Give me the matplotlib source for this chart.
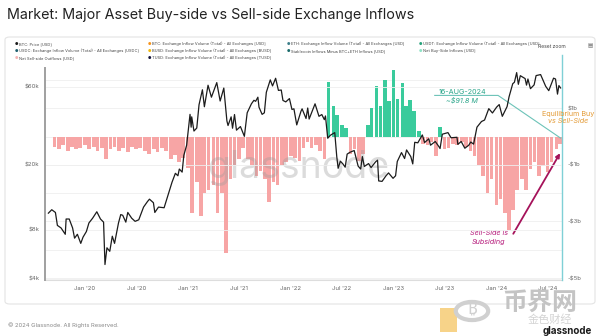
import matplotlib

matplotlib.use("Agg")
import matplotlib.pyplot as plt
import matplotlib.dates as mdates
from matplotlib.patches import FancyBboxPatch, Circle
import pandas as pd

plt.rcParams["font.family"] = ["Inter", "DejaVu Sans"]

# --- data -------------------------------------------------------------------
price_dates = [
    "2019-08-24", "2019-09-05", "2019-09-18", "2019-09-25", "2019-10-08", "2019-10-23",
    "2019-10-26", "2019-11-06", "2019-11-18", "2019-11-25", "2019-12-05", "2019-12-17",
    "2019-12-25", "2020-01-06", "2020-01-15", "2020-01-28", "2020-02-12", "2020-02-25",
    "2020-03-07", "2020-03-12", "2020-03-19", "2020-03-29", "2020-04-07", "2020-04-15",
    "2020-04-29", "2020-05-07", "2020-05-14", "2020-05-25", "2020-06-01", "2020-06-15",
    "2020-06-27", "2020-07-10", "2020-07-27", "2020-08-10", "2020-08-17", "2020-08-31",
    "2020-09-05", "2020-09-18", "2020-10-08", "2020-10-21", "2020-11-05", "2020-11-17",
    "2020-11-26", "2020-12-01", "2020-12-11", "2020-12-17", "2020-12-27", "2021-01-08",
    "2021-01-12", "2021-01-14", "2021-01-22", "2021-02-01", "2021-02-09", "2021-02-21",
    "2021-02-28", "2021-03-13", "2021-03-25", "2021-04-13", "2021-04-25", "2021-05-08",
    "2021-05-12", "2021-05-19", "2021-05-23", "2021-06-03", "2021-06-08", "2021-06-15",
    "2021-06-22", "2021-07-06", "2021-07-20", "2021-07-30", "2021-08-14", "2021-08-23",
    "2021-08-29", "2021-09-06", "2021-09-10", "2021-09-21", "2021-09-29", "2021-10-06",
    "2021-10-20", "2021-10-28", "2021-11-08", "2021-11-18", "2021-11-28", "2021-12-04",
    "2021-12-14", "2021-12-27", "2022-01-05", "2022-01-12", "2022-01-22", "2022-02-06",
    "2022-02-10", "2022-02-24", "2022-03-02", "2022-03-07", "2022-03-28", "2022-04-11",
    "2022-04-21", "2022-04-30", "2022-05-04", "2022-05-12", "2022-05-22", "2022-06-06",
    "2022-06-13", "2022-06-18", "2022-06-26", "2022-07-05", "2022-07-13", "2022-07-20",
    "2022-07-30", "2022-08-14", "2022-08-28", "2022-09-06", "2022-09-12", "2022-09-19",
    "2022-10-04", "2022-10-13", "2022-10-29", "2022-11-05", "2022-11-09", "2022-11-21",
    "2022-12-05", "2022-12-14", "2022-12-30", "2023-01-08", "2023-01-14", "2023-01-29",
    "2023-02-09", "2023-02-16", "2023-03-03", "2023-03-10", "2023-03-17", "2023-03-28",
    "2023-04-13", "2023-04-21", "2023-05-06", "2023-05-12", "2023-05-29", "2023-06-10",
    "2023-06-15", "2023-06-23", "2023-07-13", "2023-07-24", "2023-08-14", "2023-08-17",
    "2023-08-29", "2023-09-11", "2023-09-25", "2023-10-02", "2023-10-12", "2023-10-24",
    "2023-11-09", "2023-11-20", "2023-12-05", "2023-12-18", "2024-01-02", "2024-01-11",
    "2024-01-22", "2024-02-08", "2024-02-15", "2024-02-28", "2024-03-05", "2024-03-13",
    "2024-03-19", "2024-03-26", "2024-04-12", "2024-04-17", "2024-04-22", "2024-05-01",
    "2024-05-14", "2024-05-21", "2024-06-06", "2024-06-24", "2024-07-05", "2024-07-22",
    "2024-07-29", "2024-08-05", "2024-08-10", "2024-08-16",
]
price_k = [
    10.1, 10.6, 10.2, 8.5, 8.2, 7.5,
    9.3, 9.3, 8.2, 7.1, 7.5, 6.6,
    7.2, 7.8, 8.8, 9.4, 10.3, 9.3,
    8.9, 4.9, 6.2, 5.9, 7.3, 6.6,
    8.8, 9.9, 9.8, 8.9, 10.2, 9.4,
    9.0, 9.2, 11.0, 11.9, 12.3, 11.7,
    10.2, 11.0, 10.9, 12.9, 15.6, 17.7,
    17.1, 18.8, 18.0, 22.8, 26.3, 40.6,
    33.9, 39.2, 32.1, 33.5, 46.5, 57.4,
    45.2, 61.2, 51.7, 63.5, 49.0, 58.8,
    49.6, 37.0, 34.7, 39.2, 33.4, 40.5,
    32.5, 34.2, 29.8, 41.5, 47.1, 49.5,
    48.8, 51.7, 44.9, 40.6, 41.5, 55.4,
    66.0, 60.6, 67.5, 56.9, 57.2, 49.4,
    48.4, 50.7, 43.5, 43.9, 35.0, 42.4,
    43.9, 38.3, 44.4, 38.0, 47.1, 39.5,
    40.5, 37.7, 39.7, 29.0, 30.3, 31.4,
    22.5, 19.0, 21.0, 20.2, 19.3, 23.2,
    23.8, 24.4, 19.6, 18.8, 22.4, 19.5,
    20.3, 19.2, 20.8, 21.3, 15.9, 15.8,
    17.1, 17.8, 16.5, 17.1, 20.9, 23.7,
    21.8, 24.6, 22.4, 20.2, 27.4, 27.2,
    30.4, 27.3, 28.8, 26.3, 27.7, 25.9,
    25.1, 30.7, 31.4, 29.2, 29.4, 26.6,
    27.7, 25.2, 26.3, 27.5, 26.7, 33.9,
    36.7, 37.5, 44.0, 41.4, 45.0, 46.6,
    39.5, 45.3, 52.0, 62.5, 63.8, 73.1,
    62.0, 70.0, 67.2, 61.3, 66.8, 58.3,
    61.5, 70.1, 71.1, 60.3, 56.7, 67.6,
    66.8, 54.0, 60.9, 58.9,
]

# net exchange flow (buy-side inflows minus sell-side), $ billions, half-monthly
flow_start = "2019-09-15"
net_flow_b = [
    -0.35, -0.45, -0.30, -0.50, -0.35, -0.45, -0.40, -0.30, -0.45, -0.35,
    -0.50, -0.40, -0.80, -0.45, -0.35, -0.50, -0.40, -0.55, -0.35, -0.45,
    -0.40, -0.50, -0.60, -0.45, -0.55, -0.40, -0.50, -0.80, -0.65, -0.90,
    -0.75, -1.10, -2.70, -1.60, -2.80, -2.00, -1.90, -1.70, -2.70, -2.00,
    -4.10, -1.50, -1.00, -0.80, -0.40, -0.80, -1.00, -1.40, -1.20, -1.50,
    -2.30, -1.60, -1.70, -1.00, -0.90, -0.70, -0.75, -0.85, -0.40, -0.20,
    -0.40, -0.30, -0.50, -0.80, 1.95, 1.10, 0.75, 0.40, 0.30, -0.60,
    -0.45, -0.85, -0.60, 0.40, 1.00, 1.80, 1.10, 2.00, 1.25, 2.35,
    1.35, 1.90, 1.10, 1.30, 0.90, 0.20, -0.25, -0.30, -0.20, -0.70,
    0.35, -0.45, -0.40, -0.25, -0.30, -0.20, -0.35, -0.50, -0.70, -1.00,
    -1.40, -2.00, -1.50, -2.40, -2.20, -2.70, -3.30, -2.60, -1.90, -1.50,
    -1.90, -1.15, -0.90, -1.40, -1.05, -1.25, -0.90, -0.45, -0.25,
]

price_ticks = [4, 8, 20, 60]
flow_ticks = [1, -1, -3, -5]
month_ticks = ["2020-01-01", "2020-07-01", "2021-01-01", "2021-07-01", "2022-01-01",
               "2022-07-01", "2023-01-01", "2023-07-01", "2024-01-01", "2024-07-01"]

legend_items = [
    ("BTC: Price [USD]", "#1a1a1a"),
    ("BTC: Exchange Inflow Volume (Total) - All Exchanges [USD]", "#f7931a"),
    ("ETH: Exchange Inflow Volume (Total) - All Exchanges [USD]", "#3d7f8a"),
    ("USDT: Exchange Inflow Volume (Total) - All Exchanges [USD]", "#26a17b"),
    ("USDC: Exchange Inflow Volume (Total) - All Exchanges [USDC]", "#1f5f6e"),
    ("BUSD: Exchange Inflow Volume (Total) - All Exchanges [BUSD]", "#f0b90b"),
    ("Stablecoin Inflows Minus BTC+ETH Inflows [USD]", "#1a6b6b"),
    ("Net Buy-Side Inflows [USD]", "#8fe3c6"),
    ("Net Sell-side Outflows [USD]", "#f5b3b3"),
    ("TUSD: Exchange Inflow Volume (Total) - All Exchanges [TUSD]", "#14143c"),
]

PINK = "#f7a5a5"
GREEN = "#3acb9c"
W, H = 600, 336
SYMBOL_FONTS = ["Noto Sans", "Roboto", "Open Sans", "Lato", "DejaVu Sans"]


def fx(x):
    return x / W


def fy(y):
    return 1 - y / H


fig = plt.figure(figsize=(6, 3.36), dpi=100)
fig.patch.set_facecolor("white")

card = FancyBboxPatch((fx(5), fy(304)), fx(590), (304 - 37) / H,
                      boxstyle="round,pad=0,rounding_size=0.008",
                      transform=fig.transFigure, facecolor="white",
                      edgecolor="#e4e4e4", linewidth=0.8, zorder=-5)
fig.patches.append(card)

fig.text(fx(7), fy(15), "Market: Major Asset Buy-side vs Sell-side Exchange Inflows",
         fontsize=10.3, color="#222222", va="center")

# legend block
cols = [15, 148, 287, 419]
rows = [44, 51, 58]
order = [(0, 0), (0, 1), (0, 2), (0, 3), (1, 0), (1, 1), (1, 2), (1, 3), (2, 0), (2, 1)]
for (label, color), (r, c) in zip(legend_items, order):
    fig.text(fx(cols[c]), fy(rows[r]), "●", fontsize=2.8, color=color, va="center",
             family=["DejaVu Sans"])
    fig.text(fx(cols[c] + 4), fy(rows[r]), label, fontsize=2.9, color="#444444", va="center")
fig.text(fx(538), fy(46), "Reset zoom", fontsize=3.6, color="#444444", va="center")
fig.text(fx(588), fy(46), "▤", fontsize=4, color="#666666", va="center", family=["DejaVu Sans"])

ax2 = fig.add_axes([fx(45), fy(280), fx(562 - 45), (280 - 68) / H])
ax = ax2.twinx()
ax.yaxis.tick_left()
ax2.yaxis.tick_right()
ax.set_zorder(ax2.get_zorder() + 1)
ax.patch.set_visible(False)

flow_dates = pd.date_range(flow_start, periods=len(net_flow_b), freq="SMS")
colors = [GREEN if v > 0 else PINK for v in net_flow_b]
ax2.bar(flow_dates, net_flow_b, width=13, color=colors, linewidth=0, zorder=2)

ax.plot(pd.to_datetime(price_dates), [p * 1000 for p in price_k],
        color="#1c1c1c", linewidth=0.9, zorder=5)

x0, x1 = pd.Timestamp("2019-08-12"), pd.Timestamp("2024-08-21")
ax2.set_xlim(x0, x1)
ax2.set_ylim(-5.07, 2.43)
ax.set_yscale("log")
ax.set_ylim(3940, 78000)

ax.set_yticks([t * 1000 for t in price_ticks])
ax.set_yticklabels([f"${t}k" for t in price_ticks])
ax.yaxis.set_minor_locator(matplotlib.ticker.NullLocator())
ax2.set_yticks(flow_ticks)
ax2.set_yticklabels([f"${t}b" if t > 0 else f"-${-t}b" for t in flow_ticks])
ax2.set_xticks(pd.to_datetime(month_ticks))
ax2.xaxis.set_major_formatter(mdates.DateFormatter("%b '%y"))

for a in (ax, ax2):
    a.tick_params(length=0, labelsize=4.3, labelcolor="#666666", pad=4)
    for s in a.spines.values():
        s.set_visible(False)
ax2.spines["bottom"].set_visible(True)
ax2.spines["bottom"].set_color("#dddddd")
ax.spines["left"].set_visible(True)
ax.spines["left"].set_color("#a0a0a0")
ax.spines["left"].set_linewidth(1.4)

for v in range(-5, 3):
    ax2.axhline(v, color="#efefef", linewidth=0.6, zorder=0)
for t in price_ticks:
    ax.axhline(t * 1000, color="#efefef", linewidth=0.6, zorder=0)

# cursor line at the last data day
ax2.axvline(pd.Timestamp("2024-08-20"), ymin=0, ymax=1.06, color="#7fd0d6",
            linewidth=1.0, clip_on=False, zorder=6)

# watermark
ax2.text(0.49, 0.53, "glassnode", transform=ax2.transAxes, fontsize=27,
         color="#9a9a9a", alpha=0.35, ha="center", va="center", zorder=3)

# annotations
teal = "#2aa58a"
ax2.plot(pd.to_datetime(["2023-05-27", "2024-01-07", "2024-08-16"]), [1.46, 1.46, -0.05],
         color="#6cc3b8", linewidth=0.8, zorder=6)
ax2.text(pd.Timestamp("2023-09-01"), 1.57, "16-AUG-2024", fontsize=5.2, color=teal,
         ha="center", va="center", zorder=7)
ax2.text(pd.Timestamp("2023-09-01"), 1.29, "~$91.8 M", fontsize=5.2, color=teal,
         ha="center", va="center", style="italic", zorder=7)
ax2.text(pd.Timestamp("2024-09-12"), 0.82, "Equilibrium Buy", fontsize=5.2,
         color="#e39a35", ha="center", va="center", clip_on=False, zorder=7)
ax2.text(pd.Timestamp("2024-09-12"), 0.54, "vs Sell-Side", fontsize=5.2,
         color="#e39a35", ha="center", va="center", style="italic", clip_on=False, zorder=7)
ax2.text(pd.Timestamp("2023-12-05"), -3.39, "Sell-Side is", fontsize=5.2,
         color="#b5197a", ha="center", va="center", style="italic", zorder=7)
ax2.text(pd.Timestamp("2023-12-05"), -3.72, "Subsiding", fontsize=5.2,
         color="#b5197a", ha="center", va="center", style="italic", zorder=7)
ax2.annotate("", xy=(pd.Timestamp("2024-08-19"), -0.5),
             xytext=(pd.Timestamp("2024-02-25"), -3.52),
             arrowprops=dict(arrowstyle="-|>", color="#a5125a", lw=1.3,
                             mutation_scale=6), zorder=8, annotation_clip=False)

# footer and overlay marks
fig.text(fx(8), fy(325), "© 2024 Glassnode. All Rights Reserved.", fontsize=4.2,
         color="#888888", va="center")
fig.patches.append(Circle((fx(472), fy(311)), 0.027, transform=fig.transFigure,
                          facecolor="none", edgecolor="#d0d0d0", linewidth=3, zorder=5))
fig.text(fx(472), fy(311), "₿", fontsize=12, color="#d0d0d0", ha="center", va="center",
         family=SYMBOL_FONTS, fontweight="bold")
fig.patches.append(FancyBboxPatch((fx(440), fy(332)), fx(17), 24 / H,
                                  boxstyle="square,pad=0", transform=fig.transFigure,
                                  facecolor="#f2b63a", edgecolor="none", alpha=0.6, zorder=4))
fig.text(fx(540), fy(303), "币界网", fontsize=18, color="#c4c4c4", ha="center",
         va="center", family=["Noto Sans CJK SC"], fontweight="bold")
fig.text(fx(550), fy(320), "金色财经", fontsize=8, color="#d4d4d4", ha="center",
         va="center", family=["Noto Sans CJK SC"])
fig.text(fx(592), fy(331), "glassnode", fontsize=7, color="#1a1a1a", ha="right",
         va="center", fontweight="bold")

fig.savefig("out.png", dpi=100, facecolor="white")
